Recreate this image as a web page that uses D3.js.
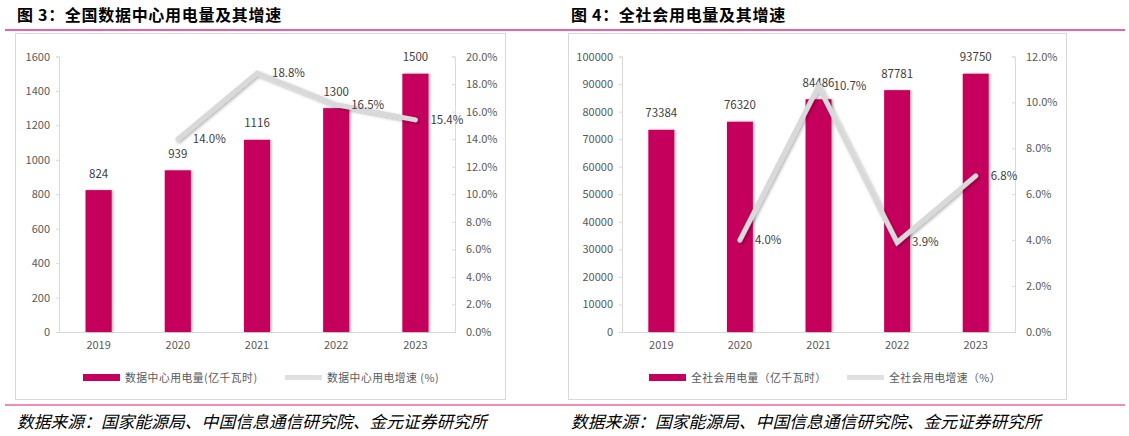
<!DOCTYPE html>
<html><head><meta charset="utf-8">
<script src="https://cdn.jsdelivr.net/npm/d3@7"></script>
<style>
body{margin:0;background:#fff;}
svg{display:block;font-family:"Noto Sans CJK SC","Noto Sans",sans-serif;}
</style></head>
<body><svg id="c" width="1129" height="436"></svg>
<script>
const years = ["2019","2020","2021","2022","2023"];
const dcPower = [824, 939, 1116, 1300, 1500];
const dcGrowth = [null, 14.0, 18.8, 16.5, 15.4];
const dcLeftTicks = [0,200,400,600,800,1000,1200,1400,1600];
const dcRightTicks = [0,2,4,6,8,10,12,14,16,18,20];
const allPower = [73384, 76320, 84486, 87781, 93750];
const allGrowth = [null, 4.0, 10.7, 3.9, 6.8];
const allLeftTicks = [0,10000,20000,30000,40000,50000,60000,70000,80000,90000,100000];
const allRightTicks = [0,2,4,6,8,10,12];

const svg = d3.select("#c");
const defs = svg.append("defs");
const f = defs.append("filter").attr("id","sh").attr("x","-30%").attr("y","-30%").attr("width","160%").attr("height","160%");
f.append("feDropShadow").attr("dx",1.5).attr("dy",1.5).attr("stdDeviation",1.5).attr("flood-color","#000").attr("flood-opacity",0.3);
const f2 = defs.append("filter").attr("id","shb").attr("x","-30%").attr("y","-10%").attr("width","160%").attr("height","120%");
f2.append("feDropShadow").attr("dx",1.5).attr("dy",0).attr("stdDeviation",1.2).attr("flood-color","#000").attr("flood-opacity",0.3);

const BAR = "#c5005c", PINK = "#e8649e", LINE = "#d9d9d9", AX = "#d9d9d9", TXT = "#595959";

function panel(o){
  const g = svg.append("g");
  g.append("text").attr("x",o.titleX).attr("y",21).attr("font-size",16).attr("font-weight","bold").attr("letter-spacing",0.7).attr("fill","#000").text(o.title);
  g.append("line").attr("x1",o.x0).attr("x2",o.x1).attr("y1",30).attr("y2",30).attr("stroke",PINK).attr("stroke-width",2);
  g.append("rect").attr("x",o.bx).attr("y",33.5).attr("width",o.bw).attr("height",366).attr("fill","#fff").attr("stroke",AX).attr("stroke-width",1);
  g.append("line").attr("x1",o.x0).attr("x2",o.x1).attr("y1",405).attr("y2",405).attr("stroke",PINK).attr("stroke-width",1.5);
  g.append("text").attr("x",o.titleX).attr("y",428).attr("font-size",16.8).attr("font-style","italic").attr("fill","#000").text("数据来源：国家能源局、中国信息通信研究院、金元证券研究所");

  const x = d3.scaleBand().domain(years).range([o.pl,o.pr]).paddingInner(0.67).paddingOuter(0.335);
  const yL = d3.scaleLinear().domain([0,o.lmax]).range([332,56.5]);
  const yR = d3.scaleLinear().domain([0,o.rmax]).range([332,56.5]);

  const la = g.append("g").attr("transform",`translate(${o.pl},0)`).call(d3.axisLeft(yL).tickValues(o.lt).tickSize(3).tickPadding(6).tickFormat(d3.format("d")));
  const ra = g.append("g").attr("transform",`translate(${o.pr},0)`).call(d3.axisRight(yR).tickValues(o.rt).tickSize(-3).tickPadding(11).tickFormat(d=>d3.format(".1f")(d)+"%"));
  const ba = g.append("g").attr("transform",`translate(0,332)`).call(d3.axisBottom(x).tickSize(0).tickPadding(9));
  [la,ra,ba].forEach(a=>{
    a.selectAll("path,line").attr("stroke",AX);
    a.selectAll("text").attr("fill",TXT).attr("font-size",11).attr("font-family","'Noto Sans CJK SC',sans-serif");
  });

  g.selectAll(".bar").data(o.bars).join("rect")
    .attr("x",(d,i)=>x(years[i])).attr("width",x.bandwidth())
    .attr("y",d=>yL(d)).attr("height",d=>332-yL(d)).attr("fill",BAR).attr("filter","url(#shb)");
  g.selectAll(".bl").data(o.bars).join("text")
    .attr("x",(d,i)=>x(years[i])+x.bandwidth()/2).attr("y",d=>yL(d)-12.5)
    .attr("text-anchor","middle").attr("font-size",11.5).attr("fill","#404040").text(d=>d);

  const pts = o.growth.map((v,i)=>({v,i})).filter(d=>d.v!==null);
  const cx = i=>x(years[i])+x.bandwidth()/2;
  g.append("path").datum(pts)
    .attr("d",d3.line().x(d=>cx(d.i)).y(d=>yR(d.v)))
    .attr("fill","none").attr("stroke",LINE).attr("stroke-width",5).attr("stroke-linecap","round").attr("stroke-linejoin","miter").attr("filter","url(#sh)");
  g.selectAll(".gl").data(pts).join("text")
    .attr("x",d=>cx(d.i)+15).attr("y",d=>yR(d.v)+4)
    .attr("font-size",11.5).attr("fill","#404040").text(d=>d3.format(".1f")(d.v)+"%");

  // legend
  g.append("rect").attr("x",o.lg1).attr("y",374).attr("width",37).attr("height",7).attr("fill",BAR);
  g.append("text").attr("x",o.lg1+42).attr("y",381.5).attr("font-size",10.8).attr("letter-spacing",0.5).attr("fill",TXT).text(o.leg1);
  g.append("line").attr("x1",o.lg2).attr("x2",o.lg2+37).attr("y1",377.5).attr("y2",377.5).attr("stroke","#e0e0e0").attr("stroke-width",5);
  g.append("text").attr("x",o.lg2+42).attr("y",381.5).attr("font-size",10.8).attr("letter-spacing",0.5).attr("fill",TXT).text(o.leg2);
}

panel({title:"图 3：全国数据中心用电量及其增速", titleX:17, x0:5, x1:560, bx:15.5, bw:490,
  pl:59, pr:455, lmax:1600, rmax:20, lt:dcLeftTicks, rt:dcRightTicks, bars:dcPower, growth:dcGrowth,
  lg1:83, lg2:285, leg1:"数据中心用电量(亿千瓦时)", leg2:"数据中心用电增速 (%)"});
panel({title:"图 4：全社会用电量及其增速", titleX:571, x0:560, x1:1125, bx:568.5, bw:498,
  pl:622, pr:1015, lmax:100000, rmax:12, lt:allLeftTicks, rt:allRightTicks, bars:allPower, growth:allGrowth,
  lg1:649, lg2:847, leg1:"全社会用电量（亿千瓦时）", leg2:"全社会用电增速（%）"});
</script></body></html>
